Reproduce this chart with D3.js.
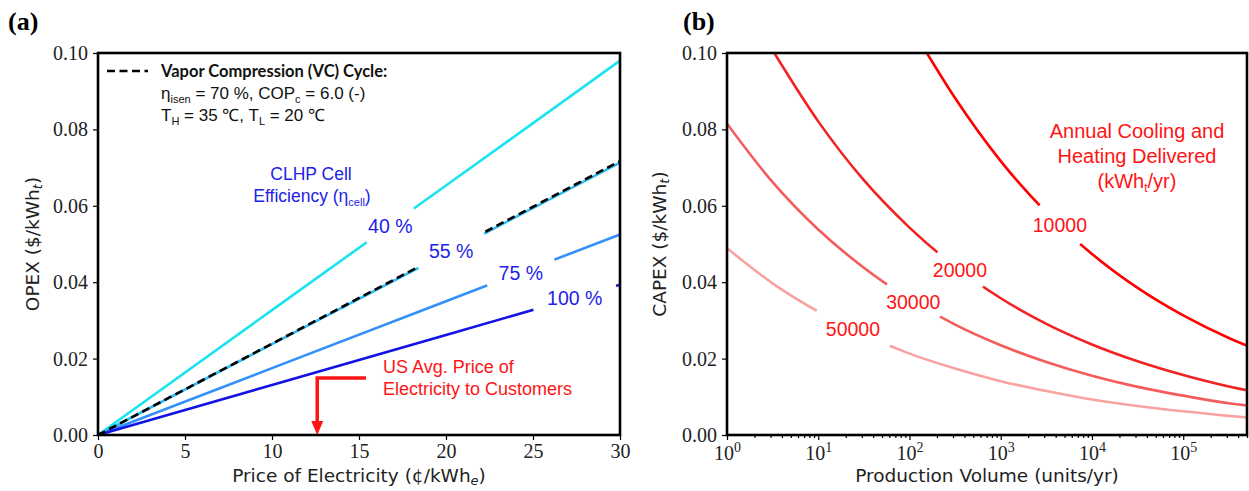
<!DOCTYPE html>
<html>
<head>
<meta charset="utf-8">
<script src="https://cdn.jsdelivr.net/npm/d3@7"></script>
<style>
  body { margin: 0; background: #fff; }
</style>
</head>
<body>
<div id="chart"></div>
<script>
// ---- panel (a): OPEX vs price of electricity (read at 0, 10, 20, 30 cents) ----
const priceCents = [0, 10, 20, 30];
const opexEff40 = [0, 0.0327, 0.0653, 0.0980];
const opexEff55 = [0, 0.0238, 0.0475, 0.0713];
const opexEff75 = [0, 0.0175, 0.0350, 0.0525];
const opexEff100 = [0, 0.0131, 0.0262, 0.0393];
const opexVC = [0, 0.0239, 0.0478, 0.0717];
const effLabels = ["40 %", "55 %", "75 %", "100 %"];
const usAvgPrice = 12.6;

// ---- panel (b): CAPEX vs production volume, [units/yr, $/kWh_t] ----
const capex10000 = [[155, 0.100], [316, 0.0882], [1000, 0.0717], [3162, 0.0583], [10000, 0.0474],
  [31623, 0.0385], [100000, 0.0313], [316228, 0.0254], [500000, 0.0234]];
const capex20000 = [[3.3, 0.100], [10, 0.0821], [31.6, 0.0667], [100, 0.0543], [316, 0.0441],
  [1000, 0.0358], [3162, 0.0291], [10000, 0.0237], [31623, 0.0193], [100000, 0.0157],
  [316228, 0.0127], [500000, 0.0117]];
const capex30000 = [[1, 0.0815], [3.16, 0.0662], [10, 0.0538], [31.6, 0.0438], [100, 0.0356],
  [316, 0.0289], [1000, 0.0235], [3162, 0.0191], [10000, 0.0155], [31623, 0.0126],
  [100000, 0.0103], [316228, 0.0083], [500000, 0.0077]];
const capex50000 = [[1, 0.0489], [3.16, 0.0397], [10, 0.0323], [31.6, 0.0263], [100, 0.0213],
  [316, 0.0174], [1000, 0.0141], [3162, 0.0115], [10000, 0.0093], [31623, 0.0076],
  [100000, 0.0062], [316228, 0.0050], [500000, 0.0046]];
const deliveredLabels = ["10000", "20000", "30000", "50000"];

const xTicksA = [0, 5, 10, 15, 20, 25, 30];
const yTicks = [0, 0.02, 0.04, 0.06, 0.08, 0.10];
const xTicksB = [1, 10, 100, 1000, 10000, 100000];

const W = 1249, H = 491;
const plotTop = 53, plotBottom = 435;
const serif = "'Liberation Serif', 'DejaVu Serif', serif";
const sans = "'DejaVu Sans', sans-serif";
const arial = "'Liberation Sans', Arial, sans-serif";
const blueText = "#2222e8";
const redText = "#ff1414";

const svg = d3.select("#chart").append("svg")
    .attr("width", W)
    .attr("height", H)
    .style("background", "#fff");

var xA = d3.scaleLinear().domain([0, 30]).range([98, 620]);
var yA = d3.scaleLinear().domain([0, 0.1]).range([plotBottom, plotTop]);
var xB = d3.scaleLog().domain([1, 5e5]).range([727, 1247]);
var yB = d3.scaleLinear().domain([0, 0.1]).range([plotBottom, plotTop]);

// text with sub/superscript parts
function richText(sel, parts, small, down) {
    var shift = 0;
    down = down || 4;
    parts.forEach(function (p) {
        var s = p.sub ? down : (p.sup ? -7 : 0);
        sel.append("tspan")
            .attr("dy", s - shift)
            .attr("font-size", (p.sub || p.sup) ? small : null)
            .attr("font-style", p.it ? "italic" : null)
            .text(p.t);
        shift = s;
    });
    return sel;
}

// white break in a line under an inline label, oriented along the line
function lineBreak(g, p0, p1, len, h) {
    var ang = Math.atan2(p1[1] - p0[1], p1[0] - p0[0]) * 180 / Math.PI;
    var cx = (p0[0] + p1[0]) / 2, cy = (p0[1] + p1[1]) / 2;
    g.append("rect")
        .attr("x", -len / 2).attr("y", -h / 2)
        .attr("width", len).attr("height", h)
        .attr("fill", "#fff")
        .attr("transform", "translate(" + cx + "," + cy + ") rotate(" + ang + ")");
}

function styleAxis(g, size) {
    g.select(".domain").remove();
    g.selectAll(".tick line").attr("stroke", "#000").attr("stroke-width", 1.2);
    g.selectAll(".tick text")
        .attr("font-family", serif)
        .attr("font-size", size)
        .attr("fill", "#222");
}

// ================= panel (a) =================
var gA = svg.append("g");

gA.append("g")
    .attr("transform", "translate(0," + plotBottom + ")")
    .call(d3.axisBottom(xA).tickValues(xTicksA).tickSize(5).tickPadding(4))
    .call(styleAxis, 20);
gA.append("g")
    .attr("transform", "translate(98,0)")
    .call(d3.axisLeft(yA).tickValues(yTicks).tickFormat(d3.format(".2f")).tickSize(5).tickPadding(5))
    .call(styleAxis, 20);

var seriesA = [
    {vals: opexEff40, color: "#19e4f0", label: effLabels[0], at: 16.8, gap: 58},
    {vals: opexEff55, color: "#2dbdf5", label: effLabels[1], at: 20.3, gap: 74},
    {vals: opexEff75, color: "#3390fb", label: effLabels[2], at: 24.3, gap: 72},
    {vals: opexEff100, color: "#1212e4", label: effLabels[3], at: 27.4, gap: 86}
];

var lineA = d3.line()
    .x(function (d, i) { return xA(priceCents[i]); })
    .y(function (d) { return yA(d); });

seriesA.forEach(function (s) {
    gA.append("path")
        .attr("d", lineA(s.vals))
        .attr("fill", "none")
        .attr("stroke", s.color)
        .attr("stroke-width", 2.6);
});

gA.append("path")
    .attr("d", lineA(opexVC))
    .attr("fill", "none")
    .attr("stroke", "#000")
    .attr("stroke-width", 2.6)
    .attr("stroke-dasharray", "8,4.5");

// inline labels breaking the lines
seriesA.forEach(function (s) {
    var f = d3.scaleLinear().domain(priceCents).range(s.vals);
    var p0 = [xA(s.at - 0.3), yA(f(s.at - 0.3))];
    var p1 = [xA(s.at + 0.3), yA(f(s.at + 0.3))];
    lineBreak(gA, p0, p1, s.gap, 12);
    gA.append("text")
        .attr("x", xA(s.at))
        .attr("y", yA(f(s.at)))
        .attr("dy", "0.38em")
        .attr("text-anchor", "middle")
        .attr("font-family", arial)
        .attr("font-size", 19.5)
        .attr("fill", blueText)
        .text(s.label);
});

// legend for the VC cycle
gA.append("line")
    .attr("x1", 107).attr("x2", 148)
    .attr("y1", 71).attr("y2", 71)
    .attr("stroke", "#000")
    .attr("stroke-width", 2.6)
    .attr("stroke-dasharray", "8,4.5");
gA.append("text")
    .attr("x", 161).attr("y", 77)
    .attr("font-family", "Lato, 'Open Sans', sans-serif")
    .attr("font-weight", "bold")
    .attr("font-size", 16.5)
    .attr("fill", "#111")
    .text("Vapor Compression (VC) Cycle:");
richText(gA.append("text").attr("x", 161).attr("y", 99)
    .attr("font-family", arial).attr("font-size", 17).attr("fill", "#111"),
    [{t: "η"}, {t: "isen", sub: true}, {t: " = 70 %, COP"}, {t: "c", sub: true}, {t: " = 6.0 (-)"}], 11);
richText(gA.append("text").attr("x", 161).attr("y", 121)
    .attr("font-family", arial).attr("font-size", 17).attr("fill", "#111"),
    [{t: "T"}, {t: "H", sub: true}, {t: " = 35 ℃, T"}, {t: "L", sub: true}, {t: " = 20 ℃"}], 11);

// CLHP efficiency heading
gA.append("text")
    .attr("x", 311).attr("y", 180)
    .attr("text-anchor", "middle")
    .attr("font-family", arial).attr("font-size", 17.5)
    .attr("fill", blueText)
    .text("CLHP Cell");
richText(gA.append("text").attr("x", 312).attr("y", 202)
    .attr("text-anchor", "middle")
    .attr("font-family", arial).attr("font-size", 17.5).attr("fill", blueText),
    [{t: "Efficiency (η"}, {t: "cell", sub: true}, {t: ")"}], 11);

// US average electricity price arrow
var ax = xA(usAvgPrice);
gA.append("path")
    .attr("d", "M" + xA(15.4) + ",378H" + ax + "V424")
    .attr("fill", "none")
    .attr("stroke", redText)
    .attr("stroke-width", 3.5);
gA.append("path")
    .attr("d", "M" + (ax - 6) + ",421L" + (ax + 6) + ",421L" + ax + "," + plotBottom + "Z")
    .attr("fill", redText);
gA.append("text")
    .attr("x", 383).attr("y", 373)
    .attr("font-family", arial).attr("font-size", 18)
    .attr("fill", redText)
    .text("US Avg. Price of");
gA.append("text")
    .attr("x", 383).attr("y", 395)
    .attr("font-family", arial).attr("font-size", 18)
    .attr("fill", redText)
    .text("Electricity to Customers");

// frame
gA.append("rect")
    .attr("x", 98).attr("y", plotTop)
    .attr("width", 620 - 98).attr("height", plotBottom - plotTop)
    .attr("fill", "none").attr("stroke", "#000").attr("stroke-width", 2.6);

// axis titles
richText(gA.append("text").attr("x", 359).attr("y", 482)
    .attr("text-anchor", "middle")
    .attr("font-family", sans).attr("font-size", 18.5).attr("fill", "#222"),
    [{t: "Price of Electricity (¢/kWh"}, {t: "e", sub: true, it: true}, {t: ")"}], 13, 3);
richText(gA.append("text")
    .attr("transform", "translate(39,244) rotate(-90)")
    .attr("text-anchor", "middle")
    .attr("font-family", sans).attr("font-size", 18.5).attr("fill", "#222"),
    [{t: "OPEX ($/kWh"}, {t: "t", sub: true, it: true}, {t: ")"}], 13, 3);

gA.append("text")
    .attr("x", 8).attr("y", 30)
    .attr("font-family", "'Liberation Serif', serif")
    .attr("font-weight", "bold")
    .attr("font-size", 26)
    .text("(a)");

// ================= panel (b) =================
var gB = svg.append("g");

var minorB = [];
for (var k = 0; k < 6; k++) {
    for (var m = 2; m < 10; m++) {
        if (m * Math.pow(10, k) <= 5e5) minorB.push(m * Math.pow(10, k));
    }
}

gB.append("g")
    .attr("transform", "translate(0," + plotBottom + ")")
    .call(d3.axisBottom(xB).tickValues(minorB).tickSize(3).tickFormat(""))
    .call(styleAxis, 20);
var xAxisB = gB.append("g")
    .attr("transform", "translate(0," + plotBottom + ")")
    .call(d3.axisBottom(xB).tickValues(xTicksB).tickSize(5).tickPadding(6))
    .call(styleAxis, 20);
xAxisB.selectAll(".tick text").each(function (d) {
    var t = d3.select(this);
    t.text(null);
    t.append("tspan").text("10");
    t.append("tspan").attr("dy", -8).attr("font-size", 14).text(Math.round(Math.log10(d)));
});
gB.append("g")
    .attr("transform", "translate(727,0)")
    .call(d3.axisLeft(yB).tickValues(yTicks).tickFormat(d3.format(".2f")).tickSize(5).tickPadding(5))
    .call(styleAxis, 20);

var seriesB = [
    {pts: capex10000, color: "#ff0000", label: deliveredLabels[0], at: 4450, gap: 56},
    {pts: capex20000, color: "#f32222", label: deliveredLabels[1], at: 357, gap: 57},
    {pts: capex30000, color: "#f45c5c", label: deliveredLabels[2], at: 110, gap: 62},
    {pts: capex50000, color: "#f8a2a2", label: deliveredLabels[3], at: 24, gap: 81}
];

svg.append("clipPath").attr("id", "clipB")
    .append("rect")
    .attr("x", 727).attr("y", plotTop)
    .attr("width", 1247 - 727).attr("height", plotBottom - plotTop);

var lineB = d3.line()
    .x(function (d) { return xB(d[0]); })
    .y(function (d) { return yB(d[1]); })
    .curve(d3.curveMonotoneX);

seriesB.forEach(function (s) {
    gB.append("path")
        .attr("d", lineB(s.pts))
        .attr("clip-path", "url(#clipB)")
        .attr("fill", "none")
        .attr("stroke", s.color)
        .attr("stroke-width", 2.6);
});

seriesB.forEach(function (s) {
    var f = d3.scaleLog()
        .domain(s.pts.map(function (d) { return d[0]; }))
        .range(s.pts.map(function (d) { return d[1]; }));
    var p0 = [xB(s.at / 1.15), yB(f(s.at / 1.15))];
    var p1 = [xB(s.at * 1.15), yB(f(s.at * 1.15))];
    lineBreak(gB, p0, p1, s.gap, 14);
    gB.append("text")
        .attr("x", xB(s.at))
        .attr("y", yB(f(s.at)))
        .attr("dy", "0.38em")
        .attr("text-anchor", "middle")
        .attr("font-family", arial)
        .attr("font-size", 19.5)
        .attr("fill", redText)
        .text(s.label);
});

// annotation for the contour values
[["Annual Cooling and", 138], ["Heating Delivered", 163]].forEach(function (r) {
    gB.append("text")
        .attr("x", 1137).attr("y", r[1])
        .attr("text-anchor", "middle")
        .attr("font-family", arial).attr("font-size", 20)
        .attr("fill", redText)
        .text(r[0]);
});
richText(gB.append("text").attr("x", 1137).attr("y", 188)
    .attr("text-anchor", "middle")
    .attr("font-family", arial).attr("font-size", 20).attr("fill", redText),
    [{t: "(kWh"}, {t: "t", sub: true}, {t: "/yr)"}], 12);

gB.append("rect")
    .attr("x", 727).attr("y", plotTop)
    .attr("width", 1247 - 727).attr("height", plotBottom - plotTop)
    .attr("fill", "none").attr("stroke", "#000").attr("stroke-width", 2.6);

gB.append("text").attr("x", 987).attr("y", 482)
    .attr("text-anchor", "middle")
    .attr("font-family", sans).attr("font-size", 18.5).attr("fill", "#222")
    .text("Production Volume (units/yr)");
richText(gB.append("text")
    .attr("transform", "translate(666,244) rotate(-90)")
    .attr("text-anchor", "middle")
    .attr("font-family", sans).attr("font-size", 18.5).attr("fill", "#222"),
    [{t: "CAPEX ($/kWh"}, {t: "t", sub: true, it: true}, {t: ")"}], 13, 3);

gB.append("text")
    .attr("x", 683).attr("y", 30)
    .attr("font-family", "'Liberation Serif', serif")
    .attr("font-weight", "bold")
    .attr("font-size", 26)
    .text("(b)");
</script>
</body>
</html>
